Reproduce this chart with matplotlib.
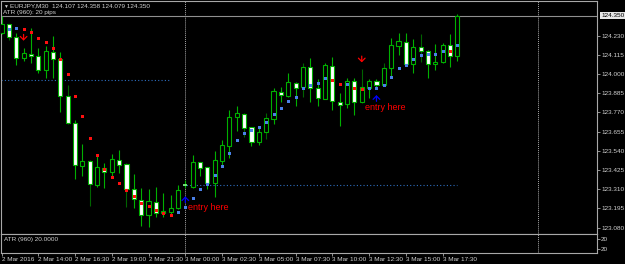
import matplotlib
matplotlib.use('Agg')
import matplotlib.pyplot as plt
from matplotlib.patches import Rectangle

plt.rcParams['font.family'] = ['Liberation Sans', 'DejaVu Sans']

# EURJPY M30 bars, 2 Mar 2016 11:30 -> 3 Mar 18:30
opens = [124.246, 124.298, 124.224, 124.094, 124.120, 124.110, 124.024, 124.134, 124.090, 123.870,
         123.709, 123.451, 123.478, 123.336, 123.439, 123.415, 123.485, 123.461, 123.312, 123.246,
         123.156, 123.236, 123.166, 123.176, 123.196, 123.333, 123.326, 123.472, 123.442, 123.346,
         123.481, 123.571, 123.745, 123.761, 123.681, 123.595, 123.655, 123.729, 123.894, 123.870,
         123.948, 123.921, 124.044, 123.915, 123.853, 124.048, 123.835, 123.821, 123.960, 123.831,
         123.918, 123.957, 123.935, 124.035, 124.170, 124.194, 124.059, 124.160, 124.138, 124.059,
         124.070, 124.174, 124.107]
highs = [124.348, 124.300, 124.244, 124.158, 124.274, 124.158, 124.170, 124.228, 124.134, 123.935,
         123.725, 123.581, 123.485, 123.515, 123.466, 123.521, 123.545, 123.467, 123.402, 123.320,
         123.312, 123.326, 123.286, 123.276, 123.336, 123.366, 123.515, 123.474, 123.445, 123.539,
         123.605, 123.785, 123.809, 123.765, 123.685, 123.685, 123.765, 123.918, 123.921, 124.008,
         123.954, 124.068, 124.098, 123.969, 124.065, 124.104, 123.885, 123.975, 123.975, 124.029,
         123.970, 123.970, 124.068, 124.218, 124.248, 124.248, 124.210, 124.240, 124.144, 124.180,
         124.188, 124.238, 124.358]
lows = [124.240, 124.204, 124.054, 124.078, 124.064, 124.008, 123.978, 123.978, 123.775, 123.701,
        123.372, 123.391, 123.212, 123.326, 123.320, 123.385, 123.406, 123.206, 123.196, 123.092,
        123.086, 123.146, 123.146, 123.150, 123.190, 123.318, 123.316, 123.390, 123.310, 123.266,
        123.451, 123.496, 123.661, 123.625, 123.569, 123.575, 123.609, 123.699, 123.831, 123.864,
        123.811, 123.861, 123.835, 123.809, 123.849, 123.785, 123.691, 123.795, 123.755, 123.829,
        123.855, 123.915, 123.930, 123.981, 124.114, 124.050, 124.008, 124.074, 123.975, 124.024,
        124.064, 124.041, 124.079]
closes = [124.300, 124.224, 124.094, 124.124, 124.110, 124.024, 124.138, 124.088, 123.870, 123.709,
          123.456, 123.478, 123.342, 123.442, 123.415, 123.491, 123.457, 123.312, 123.250, 123.156,
          123.240, 123.170, 123.180, 123.196, 123.306, 123.336, 123.472, 123.439, 123.346, 123.485,
          123.575, 123.745, 123.765, 123.679, 123.595, 123.651, 123.735, 123.900, 123.875, 123.951,
          123.915, 124.041, 123.915, 123.855, 124.053, 123.839, 123.813, 123.960, 123.831, 123.921,
          123.959, 123.936, 124.035, 124.174, 124.196, 124.059, 124.160, 124.138, 124.059, 124.074,
          124.174, 124.110, 124.350]
dark_wicks = [1, 9, 12, 17, 33, 36, 41, 49, 52, 57]

# indicator dots
red_idx = list(range(3, 24)) + [45, 46, 48, 49, 61]
red_val = [124.270, 124.254, 124.214, 124.192, 124.158, 124.092, 123.999, 123.867, 123.747, 123.619,
           123.517, 123.432, 123.384, 123.346, 123.304, 123.268, 123.230, 123.210, 123.186, 123.170,
           123.156, 123.964, 123.940, 123.917, 123.912, 124.138]
blue_idx = [1, 2] + list(range(24, 45)) + [47] + list(range(50, 61)) + [62]
blue_val = [124.270, 124.274, 123.174, 123.202, 123.258, 123.310, 123.344, 123.394, 123.451, 123.529,
            123.603, 123.647, 123.667, 123.685, 123.713, 123.763, 123.797, 123.839, 123.864, 123.917,
            123.936, 123.947, 123.976, 123.942, 123.915, 123.918, 123.936, 123.982, 124.035, 124.054,
            124.090, 124.116, 124.122, 124.120, 124.136, 124.176]

sell_idx = [3, 49]
sell_val = [124.210, 124.080]
buy_idx = [25, 51]
buy_val = [123.258, 123.864]
notes = [(25.3, 123.198), (49.45, 123.797)]

levels = [(123.964, -0.1, 23.1), (123.334, 24.7, 62)]
bid = 124.350
header = 'EURJPY,M30  124.107 124.358 124.079 124.350'

price_ticks = [124.230, 124.115, 124.000, 123.885, 123.770, 123.655, 123.540, 123.425, 123.310, 123.195, 123.080]
time_pos = [0, 5, 10, 15, 20, 25, 30, 35, 40, 45, 50, 55, 60]
time_labels = ['2 Mar 2016', '2 Mar 14:00', '2 Mar 16:30', '2 Mar 19:00', '2 Mar 21:30', '3 Mar 00:00',
               '3 Mar 02:30', '3 Mar 05:00', '3 Mar 07:30', '3 Mar 10:00', '3 Mar 12:30', '3 Mar 15:00',
               '3 Mar 17:30']
separators = [25, 73]
atr_labels = ['20', '20']

W, H = 625, 264
GREEN = '#00b000'
GREY = '#a8a8a8'
TXT = '#d0d0d0'
FS = 4.6

fig = plt.figure(figsize=(W / 100, H / 100), dpi=100, facecolor='black')
ax = fig.add_axes([1 / W, 1 - 234 / H, 596 / W, 233 / H], facecolor='black')
ax2 = fig.add_axes([1 / W, 1 - 253 / H, 596 / W, 19 / H], facecolor='black')

for a in (ax, ax2):
    for s in a.spines.values():
        s.set_color(GREY)
        s.set_linewidth(0.8)
    a.set_xlim(-0.07, 81.0)
    for sx in separators:
        a.axvline(sx, color=GREY, lw=0.7, ls=(0, (1, 1)), zorder=1)

ax.set_ylim(123.0423, 124.4375)

# horizontal levels + bid line
for lv, x0, x1 in levels:
    ax.hlines(lv, x0, x1, color='#2f6fc0', lw=0.8, ls=(0, (1, 2)), zorder=1)
ax.axhline(bid, color='#909090', lw=0.8, zorder=1)

# candles
bw = 0.56
for i in range(len(opens)):
    o, h, l, c = opens[i], highs[i], lows[i], closes[i]
    wc = '#006400' if i in dark_wicks else GREEN
    ax.vlines(i, l, h, color=wc, lw=0.8, zorder=2)
    lo, hi = min(o, c), max(o, c)
    if hi - lo < 0.004:
        ax.hlines((o + c) / 2, i - bw / 2, i + bw / 2, color='#80ff80', lw=1.2, zorder=3)
        continue
    face = 'white' if c < o else 'black'
    ax.add_patch(Rectangle((i - bw / 2, lo), bw, hi - lo, facecolor=face,
                           edgecolor=GREEN, lw=0.8, zorder=3))

ax.plot(red_idx, red_val, ls='none', marker='s', ms=2.16, mew=0, color='#ff1010', zorder=4)
ax.plot(blue_idx, blue_val, ls='none', marker='s', ms=2.16, mew=0, color='#4a80e8', zorder=4)


def arrow(x, y, up, color):
    # arrow centred on y, about 6 px tall
    d = 4.5 if up else -4.5
    ax.annotate('', xy=(x, y), xycoords='data', xytext=(0, -d), textcoords='offset points',
                arrowprops=dict(arrowstyle='->,head_length=0.4,head_width=0.4', color=color,
                                lw=0.9, shrinkA=0, shrinkB=0, mutation_scale=6),
                annotation_clip=False, zorder=5)


for x, y in zip(sell_idx, sell_val):
    arrow(x, y - 0.010, False, '#ff0000')
for x, y in zip(buy_idx, buy_val):
    arrow(x, y + 0.010, True, '#0000ff')
for x, y in notes:
    ax.text(x, y, 'entry here', color='#ff0000', fontsize=6.5, ha='left', va='center', zorder=5)

# right price scale
ax.yaxis.tick_right()
ax.set_yticks(price_ticks)
ax.set_yticklabels(['%.3f' % p for p in price_ticks])
ax.tick_params(axis='y', colors=GREY, labelcolor=TXT, labelsize=FS, length=2, width=0.6, pad=1)
ax.set_xticks([])
ax.annotate('%.3f' % bid, xy=(1.0, bid), xycoords=('axes fraction', 'data'),
            xytext=(3, 0), textcoords='offset points', fontsize=FS, color='black',
            ha='left', va='center',
            bbox=dict(boxstyle='square,pad=0.15', fc='#e8e8e8', ec='none'))

fig.text(3 / W, 1 - 6 / H, '▼', color=TXT, fontsize=3.5, va='center', ha='left')
fig.text(10 / W, 1 - 6 / H, header, color=TXT, fontsize=FS, va='center', ha='left')
fig.text(3 / W, 1 - 12.5 / H, 'ATR (960): 20 pips', color=TXT, fontsize=FS, va='center', ha='left')

# ATR sub window
ax2.set_ylim(0, 1)
ax2.yaxis.tick_right()
ax2.set_yticks([0.75, 0.2])
ax2.set_yticklabels(atr_labels)
ax2.tick_params(axis='y', colors=GREY, labelcolor=TXT, labelsize=FS, length=2, width=0.6, pad=1)
ax2.set_xticks(time_pos)
ax2.set_xticklabels(time_labels, ha='left')
ax2.tick_params(axis='x', colors=GREY, labelcolor=TXT, labelsize=FS, length=2, width=0.6, pad=1)
ax2.text(3 / 596, 0.7, 'ATR (960) 20.0000', transform=ax2.transAxes, color=TXT,
         fontsize=FS, va='center', ha='left')

fig.savefig('out.png', dpi=100, facecolor='black')
